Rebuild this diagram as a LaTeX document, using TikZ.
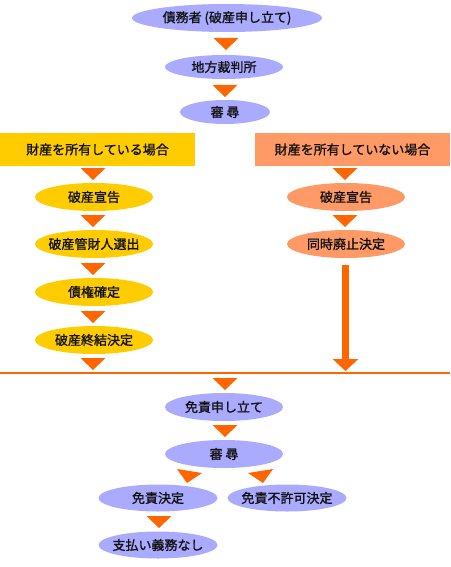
\documentclass[tikz,border=0pt]{standalone}
\usepackage{fontspec}
\newfontfamily\jpfont[FakeBold=1.2]{Noto Sans CJK JP}
\usetikzlibrary{shapes.geometric,arrows.meta}
\definecolor{lav}{HTML}{AAAAFF}
\definecolor{orng}{HTML}{FF6600}
\definecolor{gold}{HTML}{FFCC00}
\definecolor{salm}{HTML}{FF9966}
\definecolor{txt}{HTML}{111111}
\newcommand\downtri[1]{\fill[orng, shift={(#1)}] (-12.5,0) -- (12.5,0) -- (0,12) -- cycle;}
\newcommand\zw[1]{\makebox[0pt]{#1}}
\begin{document}
\begin{tikzpicture}[x=1pt,y=-1pt,
  lbl/.style={font=\jpfont\fontsize{13}{15}\selectfont, text=txt, inner sep=0pt},
  oval/.style={lbl, ellipse, minimum width=118pt, minimum height=28pt},
  bluov/.style={oval, fill=lav},
  goldov/.style={oval, fill=gold},
  salov/.style={oval, fill=salm},
  headbox/.style={lbl, minimum width=195pt, minimum height=33pt}]
\useasboundingbox (0,0) rectangle (450,567);
% top
\node[bluov, minimum width=190pt] (debtor) at (227,18) {\zw{債務者 (破産申し立て)}};
\coordinate (t1) at (226,38); \downtri{t1}
\node[bluov, minimum height=24pt] (court) at (224,67) {\zw{地方裁判所}};
\coordinate (t2) at (225,85); \downtri{t2}
\node[bluov, minimum width=90pt, minimum height=24pt] (hear1) at (225,112) {\zw{審 尋}};
% left branch
\node[headbox, fill=gold] (lhead) at (97.5,149.5) {財産を所有している場合};
\coordinate (lt1) at (93,168); \downtri{lt1}
\node[goldov] (l1) at (94,197) {\zw{破産宣告}};
\coordinate (lt2) at (93,215); \downtri{lt2}
\node[goldov] (l2) at (94,244) {\zw{破産管財人選出}};
\coordinate (lt3) at (93,263); \downtri{lt3}
\node[goldov] (l3) at (94,292) {\zw{債権確定}};
\coordinate (lt4) at (93,311); \downtri{lt4}
\node[goldov] (l4) at (94,340) {\zw{破産終結決定}};
\coordinate (lt5) at (93,358); \downtri{lt5}
% right branch
\node[headbox, fill=salm] (rhead) at (352.5,149.5) {財産を所有していない場合};
\coordinate (rt1) at (345,168); \downtri{rt1}
\node[salov] (r1) at (346,197) {\zw{破産宣告}};
\coordinate (rt2) at (345,215); \downtri{rt2}
\node[salov] (r2) at (346,244) {\zw{同時廃止決定}};
\coordinate (rend) at (345.5,371);
\draw[orng, line width=7pt, shorten <=7pt, -{Triangle[width=25pt,length=12pt]}] (r2.south -| rend) -- (rend);
% separator
\coordinate (sepl) at (0,373); \coordinate (sepr) at (450,373);
\draw[orng, line width=1.5pt] (sepl) -- (sepr);
% bottom
\coordinate (bt1) at (225,378); \downtri{bt1}
\node[bluov] (disch) at (224,407) {\zw{免責申し立て}};
\coordinate (bt2) at (225,425); \downtri{bt2}
\node[bluov] (hear2) at (224,454) {\zw{審 尋}};
\coordinate (btl) at (190,469); \coordinate (btr) at (260,469);
\fill[orng, shift={(btl)}] (-13,0) -- (12,4) -- (-3,14) -- cycle;
\fill[orng, shift={(btr)}] (-12,4) -- (13,0) -- (3,14) -- cycle;
\node[bluov, minimum width=119pt, minimum height=27pt] (exempt) at (158,498) {\zw{免責決定}};
\node[bluov, minimum width=119pt, minimum height=27pt] (deny) at (287,498) {\zw{免責不許可決定}};
\coordinate (bt3) at (159,516); \downtri{bt3}
\node[bluov, minimum width=119pt, minimum height=27pt] (nopay) at (158,545) {\zw{支払い義務なし}};
\end{tikzpicture}
\end{document}
